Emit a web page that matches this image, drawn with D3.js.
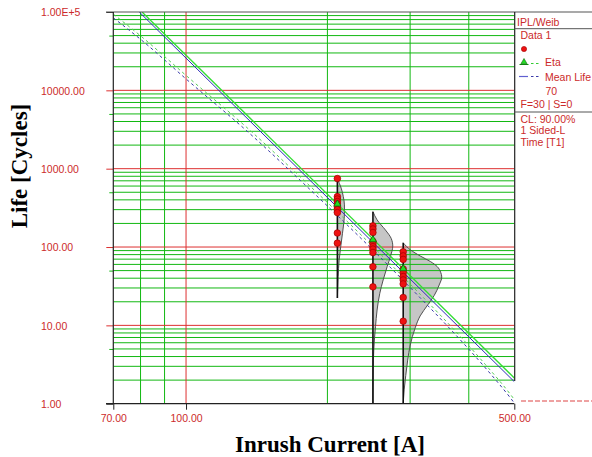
<!DOCTYPE html>
<html><head><meta charset="utf-8">
<script src="https://cdn.jsdelivr.net/npm/d3@7"></script>
<style>
body{margin:0;background:#fff}
svg{display:block}
</style>
</head><body>
<svg id="chart" width="592" height="457"></svg>
<script>
// Stress levels (inrush current, A) and failure lives observed at each (cycles)
const currents = [210, 250, 290];
const livesAt210 = [748, 440, 410, 380, 355, 328, 300, 275, 151, 112];
const livesAt250 = [186, 170, 153, 118, 110, 101, 94, 85, 56, 31];
const livesAt290 = [87, 77, 69.5, 52.5, 47.4, 42, 38, 33.8, 22.7, 11.3];

// Weibull scale parameter (eta) at each stress level
const etaAtStress = [354, 124, 53];

// Inverse power law fits: [current, cycles]
const etaLine = [[80.6, 100000], [500, 2.13]];
const meanLifeLine = [[79.5, 100000], [500, 1.91]];

// One-sided lower confidence bounds: [current, cycles]
const etaBound = [[70, 94000], [80.96, 46800], [100.5, 15100], [136.9, 3080], [175.1, 785],
  [249.3, 103], [315.4, 24.8], [383.9, 7.2], [434, 3.16], [490.8, 1.31], [500, 1.13]];
const meanLifeBound = [[70, 84300], [80.96, 42260], [100.5, 13620], [136.9, 2782], [175.1, 709],
  [249.3, 92.9], [315.4, 22.4], [383.9, 6.51], [434, 2.86], [490.8, 1.18], [500, 1.02]];

// Weibull pdf outlines at each stress: [cycles, density per cycle]
const pdfAt210 = [[741, 0], [564, 0.0024], [440, 0.0037], [345, 0.0044], [270, 0.0044], [201, 0.0040],
  [150, 0.0032], [101, 0.0021], [68, 0.0011], [42, 0.0005], [22.4, 0]];
const pdfAt250 = [[283, 0], [222, 0.0026], [165, 0.0078], [129, 0.0114], [103, 0.0124], [75.4, 0.0109],
  [56.2, 0.0089], [38, 0.0064], [25.7, 0.0043], [15.7, 0.0026], [9.6, 0.0016], [6.5, 0.0009], [3.6, 0.0003], [1, 0]];
const pdfAt290 = [[113, 0], [91.8, 0.0046], [76.9, 0.0106], [65.1, 0.0171], [56.2, 0.0213], [47.7, 0.0234],
  [41.5, 0.0241], [32.8, 0.0225], [24.1, 0.0194], [18.2, 0.0153], [13.2, 0.0106], [9.3, 0.0075],
  [5.6, 0.0044], [3.6, 0.0028], [2.3, 0.0016], [1.5, 0.0006], [1, 0]];

// Axis ticks and grid
const yTickValues = [1, 10, 100, 1000, 10000, 100000];
const yTickLabels = ["1.00", "10.00", "100.00", "1000.00", "10000.00", "1.00E+5"];
const yMinorTicks = [5, 50, 500, 5000, 50000];
const xTickValues = [70, 100, 500];
const xTickLabels = ["70.00", "100.00", "500.00"];
const gridDecades = [1, 10, 100, 1000, 10000];
const gridSteps = [2, 3, 4, 5, 6, 7, 8, 9];
const xGridMinor = [80, 90, 200, 300, 400];
const xGridMajor = [100];

// Legend text
const legendHeader = "IPL/Weib";
const legendLines = ["Data 1"];
const legendSeries = ["Eta", "Mean Life"];
const legendInfo = ["70", "F=30 | S=0"];
const legendFooter = ["CL: 90.00%", "1 Sided-L", "Time [T1]"];

const svg = d3.select("#chart");
const W = 592, H = 457;
const pL = 113.3, pR = 514.3, pT = 12, pB = 403.7;

const x = d3.scaleLog().domain([70, 500]).range([pL, pR]);
const y = d3.scaleLog().domain([1, 100000]).range([pB, pT]);
const dens = d3.scaleLinear().domain([0, 0.025]).range([0, 40]);

const RED = "#cc2a2a";
const GREEN = "#12b812";
const sans = "'Liberation Sans', Arial, sans-serif";
const serif = "'Liberation Serif', 'Times New Roman', serif";

svg.append("rect").attr("width", W).attr("height", H).attr("fill", "#fff");

svg.append("clipPath").attr("id", "plotClip")
  .append("rect").attr("x", pL).attr("y", pT).attr("width", pR - pL).attr("height", pB - pT);

const lifeSets = [livesAt210, livesAt250, livesAt290];
const pdfSets = [pdfAt210, pdfAt250, pdfAt290];

// pdf fills
const pdfArea = d3.area()
  .y(d => y(d[0]))
  .curve(d3.curveMonotoneY);
const shapes = svg.append("g").attr("clip-path", "url(#plotClip)");
pdfSets.forEach((pdf, i) => {
  const cx = x(currents[i]);
  shapes.append("path").datum(pdf)
    .attr("d", pdfArea.x0(cx).x1(d => cx + dens(d[1])))
    .attr("fill", "#c6c6c6").attr("stroke", "none");
});

// grid
const grid = svg.append("g");
const hMinor = [];
gridDecades.forEach(d => gridSteps.forEach(s => hMinor.push(d * s)));
grid.append("g").selectAll("line").data(hMinor).join("line")
  .attr("x1", pL).attr("x2", pR)
  .attr("y1", d => y(d)).attr("y2", d => y(d))
  .attr("stroke", GREEN).attr("stroke-width", 1);
grid.append("g").selectAll("line").data(xGridMinor).join("line")
  .attr("x1", d => x(d)).attr("x2", d => x(d))
  .attr("y1", pT).attr("y2", pB)
  .attr("stroke", GREEN).attr("stroke-width", 1);
grid.append("g").selectAll("line").data(yTickValues.slice(1, -1)).join("line")
  .attr("x1", pL).attr("x2", pR)
  .attr("y1", d => y(d)).attr("y2", d => y(d))
  .attr("stroke", "#dd3030").attr("stroke-width", 1);
grid.append("g").selectAll("line").data(xGridMajor).join("line")
  .attr("x1", d => x(d)).attr("x2", d => x(d))
  .attr("y1", pT).attr("y2", pB)
  .attr("stroke", "#dd3030").attr("stroke-width", 1);

// pdf outlines and baselines
const pdfEdge = d3.line().y(d => y(d[0])).curve(d3.curveMonotoneY);
const outlines = svg.append("g").attr("clip-path", "url(#plotClip)");
pdfSets.forEach((pdf, i) => {
  const cx = x(currents[i]);
  outlines.append("path").datum(pdf)
    .attr("d", pdfEdge.x(d => cx + dens(d[1])))
    .attr("fill", "none").attr("stroke", "#505050").attr("stroke-width", 1);
  outlines.append("line")
    .attr("x1", cx).attr("x2", cx)
    .attr("y1", y(pdf[0][0])).attr("y2", y(pdf[pdf.length - 1][0]))
    .attr("stroke", "#111").attr("stroke-width", 1.6);
});

// fitted lines
const fit = svg.append("g").attr("clip-path", "url(#plotClip)");
const straight = d3.line().x(d => x(d[0])).y(d => y(d[1]));
const smooth = d3.line().x(d => x(d[0])).y(d => y(d[1])).curve(d3.curveMonotoneX);
fit.append("path").datum(meanLifeBound).attr("d", smooth)
  .attr("fill", "none").attr("stroke", "#3a3aa8").attr("stroke-width", 1).attr("stroke-dasharray", "3,3");
fit.append("path").datum(etaBound).attr("d", smooth)
  .attr("fill", "none").attr("stroke", "#55cc55").attr("stroke-width", 1).attr("stroke-dasharray", "3,3");
fit.append("path").datum(etaLine).attr("d", straight)
  .attr("fill", "none").attr("stroke", "#33dd33").attr("stroke-width", 1.3);
fit.append("path").datum(meanLifeLine).attr("d", straight)
  .attr("fill", "none").attr("stroke", "#2b2bb8").attr("stroke-width", 1);

// data points
const pts = svg.append("g");
lifeSets.forEach((lives, i) => {
  pts.append("g").selectAll("circle").data(lives).join("circle")
    .attr("cx", x(currents[i])).attr("cy", d => y(d)).attr("r", 3.3)
    .attr("fill", "#ee1111").attr("stroke", "#a00000").attr("stroke-width", 0.7);
});
const tri = d3.symbol().type(d3.symbolTriangle).size(22);
pts.append("g").selectAll("path").data(etaAtStress).join("path")
  .attr("d", tri)
  .attr("transform", (d, i) => `translate(${x(currents[i])},${y(d)})`)
  .attr("fill", "#22dd22").attr("stroke", "#0a6a0a").attr("stroke-width", 0.8);

// axes
const yAxis = d3.axisLeft(y).tickValues(yTickValues)
  .tickFormat((d, i) => yTickLabels[i]).tickSize(7).tickSizeOuter(0);
const gy = svg.append("g").attr("transform", `translate(${pL},0)`).call(yAxis);
gy.select(".domain").remove();
gy.selectAll(".tick line").attr("stroke", d => (d === 1 || d === 100000) ? "#222" : "#dd3030");
gy.selectAll(".tick text")
  .attr("x", 41 - pL).attr("text-anchor", "start").attr("dy", "0.35em")
  .attr("fill", RED).style("font-family", sans).style("font-size", "10.5px");

const yMinor = d3.axisLeft(y).tickValues(yMinorTicks).tickFormat("").tickSize(4).tickSizeOuter(0);
const gym = svg.append("g").attr("transform", `translate(${pL},0)`).call(yMinor);
gym.select(".domain").remove();
gym.selectAll(".tick line").attr("stroke", GREEN);

const xAxis = d3.axisBottom(x).tickValues(xTickValues)
  .tickFormat((d, i) => xTickLabels[i]).tickSize(6).tickPadding(5).tickSizeOuter(0);
const gx = svg.append("g").attr("transform", `translate(0,${pB})`).call(xAxis);
gx.select(".domain").remove();
gx.selectAll(".tick line").attr("stroke", "#222");
gx.selectAll(".tick text")
  .attr("fill", RED).style("font-family", sans).style("font-size", "10.5px");

// frame
const frame = svg.append("g").attr("stroke-width", 1.2);
frame.append("line").attr("x1", 106).attr("x2", W).attr("y1", pT).attr("y2", pT).attr("stroke", "#555");
frame.append("line").attr("x1", 106).attr("x2", pR).attr("y1", pB).attr("y2", pB).attr("stroke", "#222");
frame.append("line").attr("x1", pL).attr("x2", pL).attr("y1", pT).attr("y2", pB).attr("stroke", "#222");
frame.append("line").attr("x1", pR + 0.4).attr("x2", pR + 0.4).attr("y1", pT).attr("y2", 381).attr("stroke", "#222");

// axis titles
svg.append("text")
  .attr("transform", "translate(27,166) rotate(-90)")
  .attr("text-anchor", "middle")
  .style("font-family", serif).style("font-weight", "bold").style("font-size", "23px")
  .text("Life  [Cycles]");
svg.append("text")
  .attr("x", 330).attr("y", 452)
  .attr("text-anchor", "middle")
  .style("font-family", serif).style("font-weight", "bold").style("font-size", "23px")
  .text("Inrush Current [A]");

// legend panel
const lg = svg.append("g").style("font-family", sans).style("font-size", "10.5px").attr("fill", RED);
lg.append("line").attr("x1", pR).attr("x2", W).attr("y1", 28.7).attr("y2", 28.7).attr("stroke", "#555");
lg.append("line").attr("x1", pR).attr("x2", W).attr("y1", 112).attr("y2", 112).attr("stroke", "#555");
lg.append("text").attr("x", 517).attr("y", 25.5).text(legendHeader);
lg.append("text").attr("x", 520.5).attr("y", 39.3).text(legendLines[0]);
lg.append("circle").attr("cx", 524).attr("cy", 49).attr("r", 2.6)
  .attr("fill", "#ee1111").attr("stroke", "#a00000").attr("stroke-width", 0.6);
// Eta entry
lg.append("line").attr("x1", 519.5).attr("x2", 528.5).attr("y1", 64.5).attr("y2", 64.5)
  .attr("stroke", "#118811").attr("stroke-width", 1);
lg.append("path").attr("d", d3.symbol().type(d3.symbolTriangle).size(16))
  .attr("transform", "translate(524,62)").attr("fill", "#22dd22").attr("stroke", "#0a6a0a").attr("stroke-width", 0.6);
lg.append("line").attr("x1", 531).attr("x2", 541).attr("y1", 63.5).attr("y2", 63.5)
  .attr("stroke", "#33cc33").attr("stroke-dasharray", "2.5,2.5");
lg.append("text").attr("x", 545).attr("y", 65.5).text(legendSeries[0]);
// Mean life entry
lg.append("line").attr("x1", 519).attr("x2", 528).attr("y1", 76.5).attr("y2", 76.5)
  .attr("stroke", "#6060d0").attr("stroke-width", 1.2);
lg.append("line").attr("x1", 531).attr("x2", 541).attr("y1", 76.5).attr("y2", 76.5)
  .attr("stroke", "#3a3aa8").attr("stroke-dasharray", "2.5,2.5");
lg.append("text").attr("x", 545).attr("y", 80.5).text(legendSeries[1]);
lg.append("text").attr("x", 545.5).attr("y", 95.3).text(legendInfo[0]);
lg.append("text").attr("x", 520.5).attr("y", 108.3).text(legendInfo[1]);
legendFooter.forEach((t, i) => {
  lg.append("text").attr("x", 520.5).attr("y", 122.5 + i * 11.5).text(t);
});
// truncated footer mark in the lower right
lg.append("line").attr("x1", 521).attr("x2", W).attr("y1", 401).attr("y2", 401)
  .attr("stroke", "#dd4444").attr("stroke-dasharray", "5,2");
</script>
</body></html>
